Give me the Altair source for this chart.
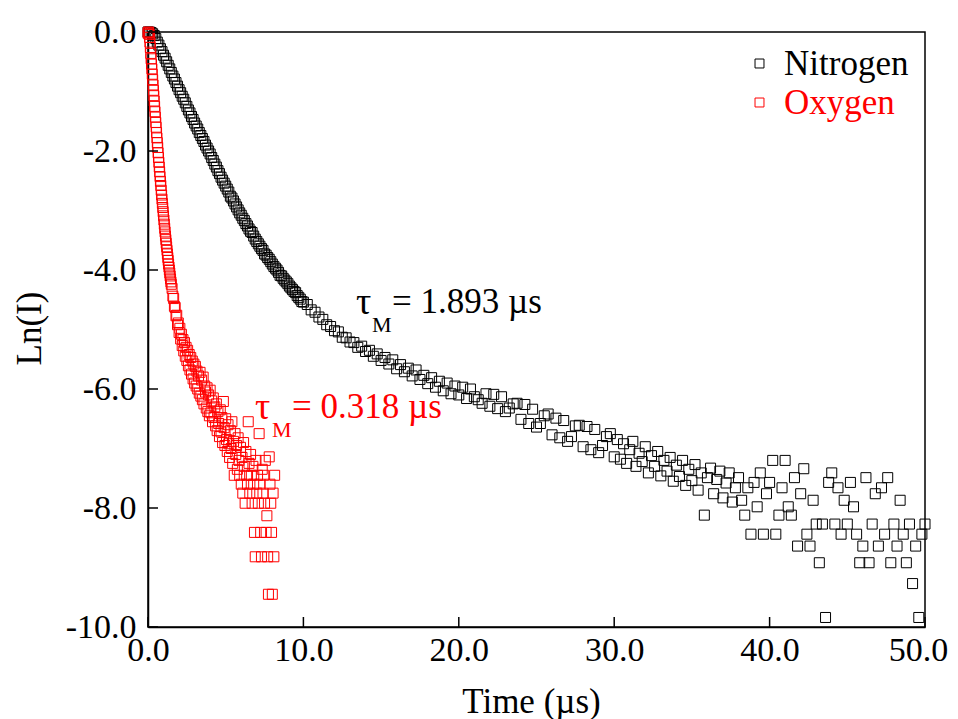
import altair as alt
import pandas as pd

FONT = "Liberation Serif"

# ---------------- data ----------------
series_names = ["Nitrogen", "Oxygen"]
series_colors = ["#000000", "#ff0000"]
x_ticks = [0, 10, 20, 30, 40, 50]
y_ticks = [0, -2, -4, -6, -8, -10]

n2_t = [
    0.0, 0.1, 0.2, 0.3, 0.4, 0.5, 0.6, 0.7, 0.8, 0.9,
    1.0, 1.1, 1.2, 1.3, 1.4, 1.5, 1.6, 1.7, 1.8, 1.9,
    2.0, 2.1, 2.2, 2.3, 2.4, 2.5, 2.6, 2.7, 2.8, 2.9,
    3.0, 3.1, 3.2, 3.3, 3.4, 3.5, 3.6, 3.7, 3.8, 3.9,
    4.0, 4.1, 4.2, 4.3, 4.4, 4.5, 4.6, 4.7, 4.8, 4.9,
    5.0, 5.1, 5.2, 5.3, 5.4, 5.5, 5.6, 5.7, 5.8, 5.9,
    6.0, 6.1, 6.2, 6.3, 6.4, 6.5, 6.6, 6.7, 6.8, 6.9,
    7.0, 7.1, 7.2, 7.3, 7.4, 7.5, 7.6, 7.7, 7.8, 7.9,
    8.0, 8.1, 8.2, 8.3, 8.4, 8.5, 8.6, 8.7, 8.8, 8.9,
    9.0, 9.1, 9.2, 9.3, 9.4, 9.5, 9.6, 9.7, 9.8, 9.9,
    10.0,
    10.25, 10.5, 10.75, 11.0, 11.25, 11.5, 11.75, 12.0, 12.25, 12.5,
    12.75, 13.0, 13.25, 13.5, 13.75, 14.0, 14.25, 14.5, 14.75, 15.0,
    15.25, 15.5, 15.75, 16.0, 16.25, 16.5, 16.75, 17.0, 17.25, 17.5,
    17.75, 18.0, 18.25, 18.5, 18.75, 19.0, 19.25, 19.5, 19.75, 20.0,
    20.25, 20.5, 20.75, 21.0, 21.25, 21.5, 21.75, 22.0, 22.25, 22.5,
    22.75, 23.0, 23.25, 23.5, 23.75, 24.0, 24.25, 24.5, 24.75, 25.0,
    25.25, 25.5, 25.75, 26.0, 26.25, 26.5, 26.75, 27.0, 27.25, 27.5,
    27.75, 28.0, 28.25, 28.5, 28.75, 29.0, 29.25, 29.5, 29.75, 30.0,
    30.2, 30.4, 30.6, 30.8, 31.0, 31.2, 31.4, 31.6, 31.8, 32.0,
    32.2, 32.4, 32.6, 32.8, 33.0, 33.2, 33.4, 33.6, 33.8, 34.0,
    34.2, 34.4, 34.6, 34.8, 35.0, 35.2, 35.4, 35.6, 35.8, 36.0,
    36.2, 36.4, 36.6, 36.8, 37.0, 37.2, 37.4, 37.6, 37.8, 38.0,
    38.2, 38.4, 38.6, 38.8, 39.0, 39.2, 39.4, 39.6, 39.8, 40.0,
    40.2, 40.4, 40.6, 40.8, 41.0, 41.2, 41.4, 41.6, 41.8, 42.0,
    42.2, 42.4, 42.6, 42.8, 43.0, 43.2, 43.4, 43.6, 43.8, 44.0,
    44.2, 44.4, 44.6, 44.8, 45.0, 45.2, 45.4, 45.6, 45.8, 46.0,
    46.2, 46.4, 46.6, 46.8, 47.0, 47.2, 47.4, 47.6, 47.8, 48.0,
    48.2, 48.4, 48.6, 48.8, 49.0, 49.2, 49.4, 49.6, 49.8, 50.0,
]
n2_lnI = [
    0.00, 0.00, -0.01, -0.03, -0.06, -0.11, -0.17, -0.22, -0.28, -0.33,
    -0.39, -0.44, -0.50, -0.56, -0.62, -0.68, -0.74, -0.79, -0.85, -0.91,
    -0.97, -1.02, -1.08, -1.13, -1.19, -1.25, -1.31, -1.36, -1.42, -1.47,
    -1.53, -1.58, -1.63, -1.69, -1.74, -1.79, -1.84, -1.90, -1.95, -2.00,
    -2.05, -2.11, -2.16, -2.22, -2.27, -2.33, -2.38, -2.44, -2.49, -2.54,
    -2.59, -2.64, -2.69, -2.76, -2.79, -2.84, -2.89, -2.94, -2.99, -3.04,
    -3.08, -3.13, -3.17, -3.22, -3.26, -3.31, -3.35, -3.37, -3.43, -3.48,
    -3.52, -3.56, -3.60, -3.64, -3.67, -3.73, -3.75, -3.79, -3.82, -3.86,
    -3.90, -3.94, -3.97, -4.00, -4.04, -4.09, -4.10, -4.14, -4.17, -4.20,
    -4.23, -4.27, -4.30, -4.33, -4.36, -4.38, -4.43, -4.46, -4.49, -4.53,
    -4.54,
    -4.58, -4.67, -4.71, -4.79, -4.83, -4.92, -4.95, -5.02, -5.04, -5.13,
    -5.14, -5.21, -5.22, -5.30, -5.28, -5.37, -5.35, -5.45, -5.41, -5.52,
    -5.47, -5.58, -5.51, -5.66, -5.59, -5.71, -5.65, -5.78, -5.68, -5.84,
    -5.77, -5.91, -5.81, -5.97, -5.87, -6.03, -5.90, -6.08, -5.95, -6.10,
    -5.97, -6.16, -6.00, -6.13, -6.18, -6.24, -6.08, -6.29, -6.09, -6.33,
    -6.13, -6.38, -6.32, -6.25, -6.24, -6.51, -6.26, -6.58, -6.34, -6.64,
    -6.58, -6.45, -6.42, -6.77, -6.49, -6.82, -6.53, -6.88, -6.80, -6.62,
    -6.61, -6.97, -6.63, -7.02, -6.68, -7.07, -6.95, -6.80, -6.75, -7.14,
    -6.85, -7.18, -6.92, -7.25, -7.02, -6.88, -7.30, -7.08, -7.22, -6.97,
    -7.41, -7.12, -7.30, -7.05, -7.46, -7.20, -7.38, -7.15, -7.55, -7.28,
    -7.47, -7.20, -7.62, -7.35, -7.54, -7.27, -7.70, -7.41, -8.12, -7.49,
    -7.33, -7.76, -7.52, -7.38, -7.83, -7.58, -7.41, -7.90, -7.66, -7.49,
    -7.87, -8.12, -7.66, -8.44, -7.57, -7.98, -7.41, -8.44, -7.76, -7.57,
    -7.20, -8.44, -8.12, -7.66, -7.20, -7.98, -8.12, -7.49, -8.64, -7.76,
    -7.34, -8.44, -8.64, -7.87, -8.27, -8.92, -8.27, -9.84, -7.57, -7.41,
    -8.27, -7.66, -8.44, -7.87, -8.27, -7.57, -7.98, -8.44, -8.92, -8.64,
    -7.49, -8.92, -8.27, -7.76, -8.64, -7.66, -8.44, -7.49, -8.92, -8.27,
    -8.64, -7.87, -8.44, -8.92, -8.27, -9.27, -8.64, -9.84, -8.44, -8.27,
]

o2_t = [
    0.0, 0.025, 0.05, 0.075, 0.1, 0.125, 0.15, 0.175, 0.2, 0.225,
    0.25, 0.275, 0.3, 0.325, 0.35, 0.375, 0.4, 0.425, 0.45, 0.475,
    0.5, 0.525, 0.55, 0.575, 0.6, 0.625, 0.65, 0.675, 0.7, 0.725,
    0.75, 0.775, 0.8, 0.825, 0.85, 0.875, 0.9, 0.925, 0.95, 0.975,
    1.0, 1.025, 1.05, 1.075, 1.1, 1.125, 1.15, 1.175, 1.2, 1.225,
    1.25, 1.275, 1.3, 1.325, 1.35, 1.375, 1.4, 1.425, 1.45, 1.475,
    1.5,
    1.55, 1.6, 1.65, 1.7, 1.75, 1.8, 1.85, 1.9, 1.95, 2.0,
    2.05, 2.1, 2.15, 2.2, 2.25, 2.3, 2.35, 2.4, 2.45, 2.5,
    2.55, 2.6, 2.65, 2.7, 2.75, 2.8, 2.85, 2.9, 2.95, 3.0,
    3.05, 3.1, 3.15, 3.2, 3.25, 3.3, 3.35, 3.4, 3.45, 3.5,
    3.55, 3.6, 3.65, 3.7, 3.75, 3.8, 3.85, 3.9, 3.95, 4.0,
    4.05, 4.1, 4.15, 4.2, 4.25, 4.3, 4.35, 4.4, 4.45, 4.5,
    4.55, 4.6, 4.65, 4.7, 4.75, 4.8, 4.85, 4.9, 4.95, 5.0,
    5.05, 5.1, 5.15, 5.2, 5.25, 5.3, 5.35, 5.4, 5.45, 5.5,
    5.55, 5.6, 5.65, 5.7, 5.75, 5.8, 5.85, 5.9, 5.95, 6.0,
    6.05, 6.1, 6.15, 6.2, 6.25, 6.3, 6.35, 6.4, 6.45, 6.5,
    6.55, 6.6, 6.65, 6.7, 6.75, 6.8, 6.85, 6.9, 6.95, 7.0,
    7.05, 7.1, 7.15, 7.2, 7.25, 7.3, 7.35, 7.4, 7.45, 7.5,
    7.55, 7.6, 7.65, 7.7, 7.75, 7.8, 7.85, 7.9, 7.95, 8.0,
    8.05, 8.1, 8.15,
]
o2_lnI = [
    -0.02, 0.00, -0.01, -0.04, -0.09, -0.17, -0.26, -0.36, -0.45, -0.54,
    -0.62, -0.71, -0.80, -0.89, -0.98, -1.07, -1.16, -1.25, -1.34, -1.43,
    -1.52, -1.60, -1.69, -1.78, -1.86, -1.94, -2.03, -2.11, -2.19, -2.27,
    -2.35, -2.43, -2.51, -2.58, -2.66, -2.74, -2.81, -2.88, -2.95, -3.02,
    -3.09, -3.16, -3.23, -3.30, -3.36, -3.43, -3.49, -3.55, -3.61, -3.67,
    -3.73, -3.79, -3.84, -3.90, -3.95, -4.00, -4.05, -4.10, -4.15, -4.20,
    -4.24,
    -4.31, -4.44, -4.48, -4.61, -4.63, -4.77, -4.76, -4.92, -4.89, -5.05,
    -4.98, -5.16, -5.08, -5.27, -5.17, -5.36, -5.22, -5.45, -5.30, -5.52,
    -5.35, -5.61, -5.42, -5.68, -5.47, -5.75, -5.53, -5.83, -5.58, -5.90,
    -5.62, -5.95, -5.70, -6.00, -5.78, -6.07, -5.72, -6.12, -5.85, -6.18,
    -5.80, -6.25, -5.95, -6.05, -6.32, -5.98, -6.38, -6.10, -6.45, -6.02,
    -6.40, -6.20, -6.55, -6.15, -6.48, -6.30, -6.62, -6.25, -6.70, -6.38,
    -6.58, -6.80, -6.35, -6.72, -6.48, -6.90, -6.21, -6.65, -6.95, -6.50,
    -6.85, -7.05, -6.60, -6.92, -7.15, -6.70, -7.00, -6.55, -7.25, -6.88,
    -7.45, -6.75, -7.10, -6.95, -7.35, -6.82, -7.20, -7.45, -6.98, -7.60,
    -7.15, -7.75, -6.90, -7.30, -7.92, -7.05, -7.45, -7.60, -6.55, -7.25,
    -7.75, -7.10, -7.45, -7.92, -7.30, -7.60, -8.41, -8.82, -7.20, -7.75,
    -7.45, -7.92, -6.75, -7.60, -8.41, -8.82, -7.35, -7.75, -7.45, -7.92,
    -7.20, -8.41, -8.13, -8.82, -9.45, -7.14, -7.60, -7.92, -8.41, -9.45,
    -7.75, -8.82, -7.45,
]

tau_symbol = "τ"
tau_sub = "M"
n2_tau_text = "= 1.893 µs"
o2_tau_text = "= 0.318 µs"

assert len(n2_t) == len(n2_lnI)
assert len(o2_t) == len(o2_lnI)

df = pd.concat(
    [
        pd.DataFrame({"t": n2_t, "lnI": n2_lnI, "gas": series_names[0]}),
        pd.DataFrame({"t": o2_t, "lnI": o2_lnI, "gas": series_names[1]}),
    ],
    ignore_index=True,
)

W, H = 777, 595
xscale = alt.Scale(domain=[0, 50], nice=False, zero=False)
yscale = alt.Scale(domain=[-10, 0], nice=False, zero=False)

minus_fix = "replace(datum.label, '\u2212', '-')"

x_axis = alt.Axis(
    values=x_ticks,
    format=".1f",
    title="Time (µs)",
    labelFontSize=34,
    labelPadding=6,
    labelOffset=alt.ConditionalAxisNumber(
        condition={"test": "datum.value == 50", "value": -7}, value=0
    ),
    titleFontSize=35,
    titleX=383,
    titleY=85,
    titleBaseline="alphabetic",
    titleAlign="center",
    labelFlush=False,
    labelOverlap=False,
)
y_axis = alt.Axis(
    values=y_ticks,
    format=".1f",
    labelExpr=minus_fix,
    title="Ln(I)",
    labelFontSize=34,
    labelPadding=12,
    titleFontSize=35,
    titleX=-119,
    titleY=296,
    titleAngle=270,
    titleBaseline="middle",
    titleAlign="center",
    labelFlush=False,
    labelOverlap=False,
)

points = (
    alt.Chart(df)
    .mark_point(shape="square", filled=False, size=100, strokeWidth=1, opacity=1)
    .encode(
        x=alt.X("t:Q", scale=xscale, axis=x_axis),
        y=alt.Y("lnI:Q", scale=yscale, axis=y_axis),
        color=alt.Color(
            "gas:N",
            scale=alt.Scale(domain=series_names, range=series_colors),
            legend=alt.Legend(
                title=None,
                orient="none",
                legendX=594,
                legendY=14,
                padding=0,
                labelFont=FONT,
                labelFontSize=35,
                labelColor=alt.ExprRef(
                    expr="datum.label == 'Oxygen' ? '#ff0000' : '#000000'"
                ),
                labelOffset=7,
                rowPadding=3,
                symbolType="square",
                symbolSize=80,
                symbolStrokeWidth=1,
            ),
        ),
    )
)

# inward tick marks, drawn on the shared scales
ytick_layer = (
    alt.Chart(pd.DataFrame({"lnI": y_ticks}))
    .mark_rule(color="black", strokeWidth=1.5)
    .encode(
        y=alt.Y("lnI:Q", scale=yscale, axis=y_axis),
        x=alt.value(0),
        x2=alt.value(10),
    )
)
xtick_layer = (
    alt.Chart(pd.DataFrame({"t": x_ticks}))
    .mark_rule(color="black", strokeWidth=1.5)
    .encode(
        x=alt.X("t:Q", scale=xscale, axis=x_axis),
        y=alt.value(H),
        y2=alt.value(H - 10),
    )
)

dummy = pd.DataFrame({"a": [0]})


def label(text, px, py, size, color):
    return (
        alt.Chart(dummy)
        .mark_text(
            text=text,
            align="left",
            baseline="alphabetic",
            font=FONT,
            fontSize=size,
            color=color,
        )
        .encode(x=alt.value(px), y=alt.value(py))
    )


annotations = [
    label(tau_symbol, 208, 282, 38, "#000000"),
    label(tau_sub, 224, 300, 22, "#000000"),
    label(n2_tau_text, 244, 281, 35, "#000000"),
    label(tau_symbol, 107, 387, 38, "#ff0000"),
    label(tau_sub, 124, 405, 22, "#ff0000"),
    label(o2_tau_text, 144, 386, 35, "#ff0000"),
]

chart = (
    alt.layer(points, ytick_layer, xtick_layer, *annotations)
    .properties(
        width=W,
        height=H,
        autosize=alt.AutoSizeParams(type="none"),
        padding={"left": 140, "top": 24, "right": 24, "bottom": 95},
        background="white",
    )
    .configure_view(stroke="black", strokeWidth=1.5)
    .configure_axis(
        domainColor="black",
        domainWidth=1.5,
        ticks=False,
        tickSize=0,
        grid=False,
        labelFont=FONT,
        titleFont=FONT,
        labelColor="black",
        titleColor="black",
        titleFontWeight="normal",
    )
)

chart.save("out.html", embed_options={"renderer": "svg", "actions": False})
